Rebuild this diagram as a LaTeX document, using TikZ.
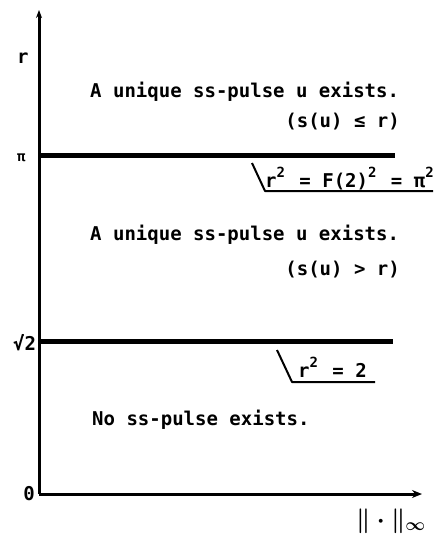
\documentclass[tikz,border=0pt]{standalone}
\usepackage{amsmath}
\usepackage{fontspec}
\setmonofont{DejaVu Sans Mono}
\usetikzlibrary{arrows.meta}
\newcommand\mysq{\makebox[0.6em][l]{\raisebox{0.5em}{\fontsize{14}{14}\selectfont 2}}}
\begin{document}
\begin{tikzpicture}[x=1pt,y=-1pt,
  txt/.style={font=\fontsize{19}{22}\selectfont\ttfamily\bfseries, inner sep=0pt},
  axis/.style={line width=3pt},
  level/.style={line width=5pt},
  rad/.style={line width=2pt, line join=round}]
\useasboundingbox (0,0) rectangle (434,541);
% axes
\coordinate (O) at (39,494);
\coordinate (ytop) at (39,10);
\coordinate (xend) at (422,494);
\draw[axis,-{Stealth[length=8pt,width=6pt]}] (O) -- (ytop);
\draw[axis,-{Stealth[length=10pt,width=8pt]}] (O) -- (xend);
% level lines
\coordinate (piL) at (39,155.5);
\coordinate (piR) at (395,155.5);
\coordinate (s2L) at (39,341.5);
\coordinate (s2R) at (393,341.5);
\draw[level] (piL) -- (piR);
\draw[level] (s2L) -- (s2R);
% axis labels
\node[txt, anchor=base west] (lr) at (17,63) {r};
\node[txt, anchor=base west, font=\fontsize{14}{16}\selectfont\ttfamily\bfseries] (lpi) at (17,161) {π};
\node[txt, anchor=base west] (ls2) at (13,350) {√2};
\node[txt, anchor=east] (l0) at (35,494) {0};
\node[inner sep=0pt, anchor=base west, font=\fontsize{23}{26}\selectfont\boldmath] (lnorm) at (356,527) {$\|\cdot\|_{\infty}$};
% region texts
\node[txt, anchor=base west] (t1) at (90,97) {A unique ss-pulse u exists.};
\node[txt, anchor=base east] (t2) at (400,127) {(s(u) ≤ r)};
\node[txt, anchor=base west] (t3) at (90,240) {A unique ss-pulse u exists.};
\node[txt, anchor=base east] (t4) at (400,275) {(s(u) > r)};
\node[txt, anchor=base west] (t5) at (92,425) {No ss-pulse exists.};
% radical boxes
\node[txt, anchor=base west] (b1) at (265,187) {r\mysq{} = F(2)\mysq{} = π\mysq};
\coordinate (r1a) at (252,163);
\coordinate (r1b) at (265,191);
\coordinate (r1c) at (433,191);
\draw[rad] (r1a) -- (r1b) -- (r1c);
\node[txt, anchor=base west] (b2) at (298,377) {r\mysq{} = 2};
\coordinate (r2a) at (277,350);
\coordinate (r2b) at (292,382);
\coordinate (r2c) at (375,382);
\draw[rad] (r2a) -- (r2b) -- (r2c);
\end{tikzpicture}
\end{document}
